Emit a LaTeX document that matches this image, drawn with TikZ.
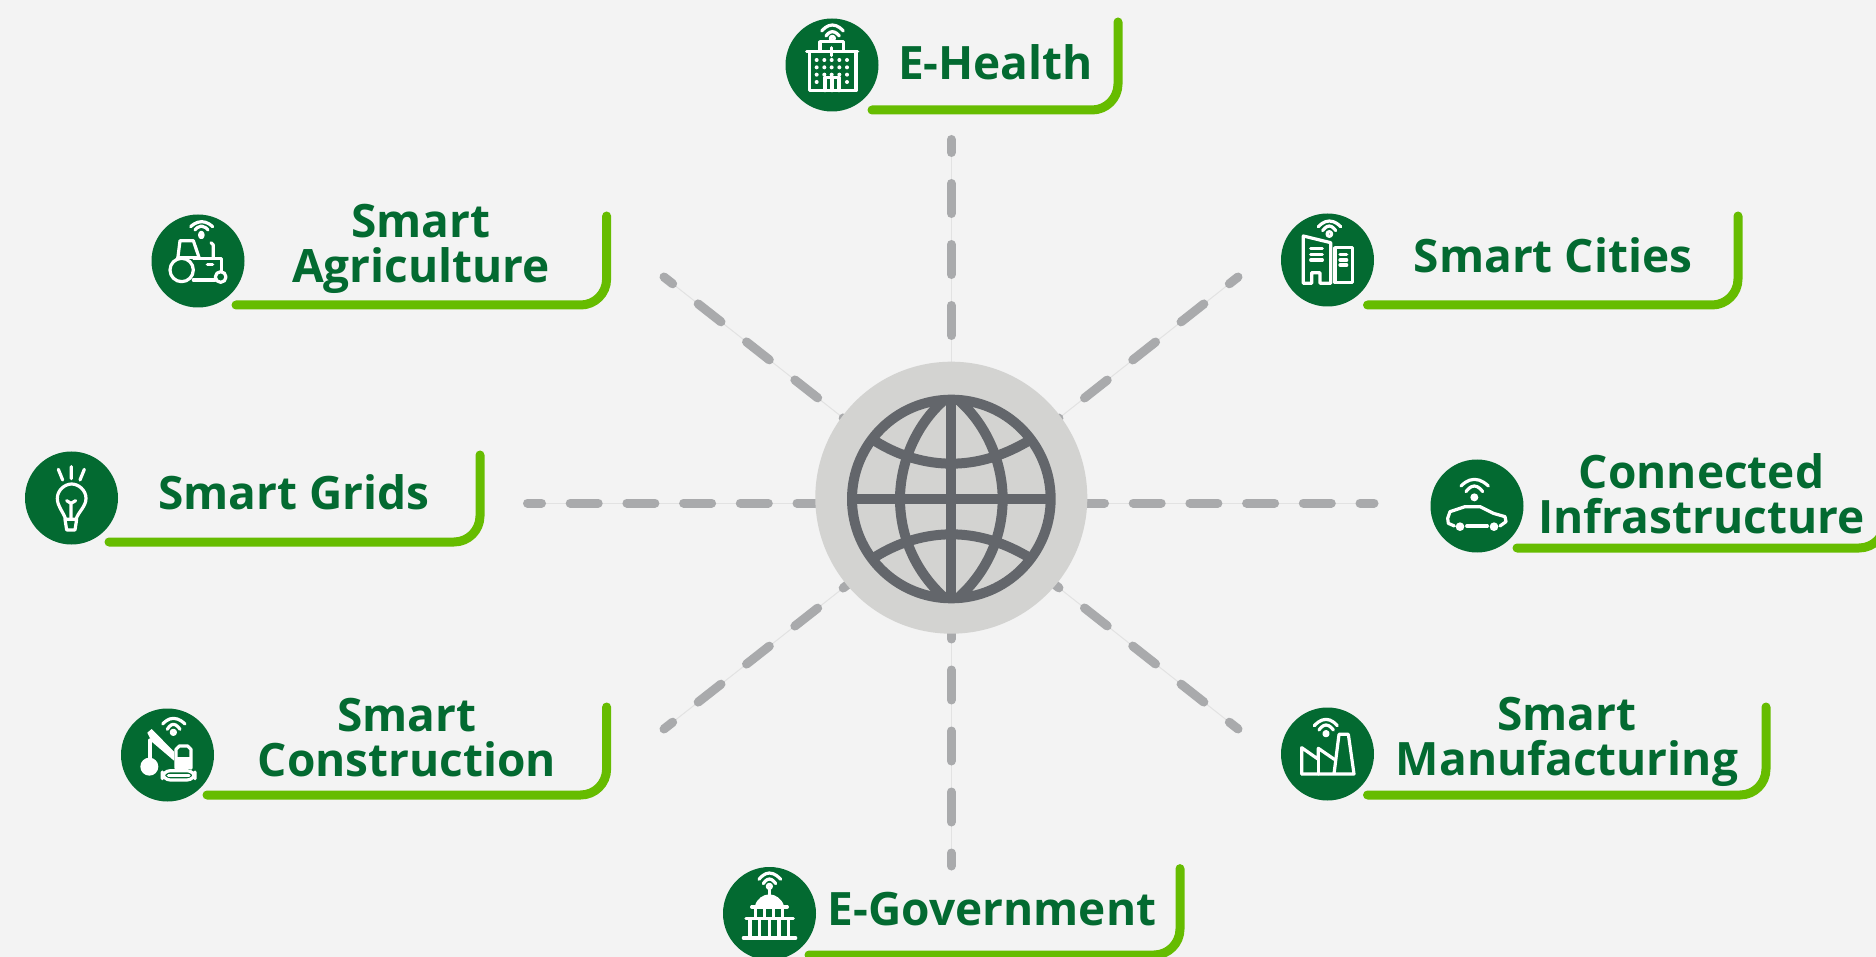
\documentclass[tikz,border=0pt]{standalone}
\usepackage{fontspec}
\setmainfont{Open Sans}
\definecolor{bgc}{HTML}{F3F3F3}
\definecolor{dkgreen}{HTML}{036A31}
\definecolor{brgreen}{HTML}{66BC00}
\definecolor{dashc}{HTML}{A9AAAC}
\definecolor{thinc}{HTML}{E2E2E2}
\definecolor{hubc}{HTML}{D3D3D1}
\definecolor{globec}{HTML}{63666B}
\tikzset{
  bracket/.style={draw=brgreen,line width=4.5pt,line cap=round,rounded corners=13pt},
  iconcirc/.style={circle,fill=dkgreen,minimum size=46.5pt,inner sep=0pt},
  lbl/.style={text=dkgreen,font=\fontsize{23}{22.5}\selectfont\bfseries,align=center,inner sep=0pt},
  thinspoke/.style={draw=thinc,line width=0.5pt},
  spokeV/.style={draw=dashc,line width=4.5pt,line cap=round,dash pattern=on 15pt off 15.5pt,dash phase=8.5pt},
  spokeH/.style={draw=dashc,line width=4.5pt,line cap=round,dash pattern=on 14pt off 14.35pt,dash phase=7pt},
  spokeD/.style={draw=dashc,line width=4.5pt,line cap=round,dash pattern=on 14.5pt off 16.25pt,dash phase=9pt},
  ico/.style={draw=white,line width=1.6pt,line cap=round,line join=round},
  globe/.style={draw=globec,line width=5pt}
}
\begin{document}
\begin{tikzpicture}[x=0.5pt,y=-0.5pt]
\useasboundingbox (0,0) rectangle (1876,957);
\fill[bgc] (0,0) rectangle (1876,957);
\clip (0,0) rectangle (1876,957);
% spokes
\coordinate (centre) at (951.3,503);
\coordinate (endN) at (951.3,139.5);
\coordinate (endS) at (951.3,866);
\coordinate (endW) at (527.5,503);
\coordinate (endE) at (1374,503);
\coordinate (endNE) at (1238,277);
\coordinate (endNW) at (664,277);
\coordinate (endSW) at (664,729);
\coordinate (endSE) at (1238,729);
\foreach \e in {endN,endS,endW,endE,endNE,endNW,endSW,endSE}
  \draw[thinspoke] (\e) -- (centre);
\foreach \e in {endN,endS} \draw[spokeV] (\e) -- (centre);
\foreach \e in {endW,endE} \draw[spokeH] (\e) -- (centre);
\foreach \e in {endNE,endNW,endSW,endSE} \draw[spokeD] (\e) -- (centre);
% hub
\node[circle,fill=hubc,minimum size=136pt,inner sep=0pt] (hub) at (951.3,497.7) {};
\begin{scope}[shift={(780,340)},scale=1/3]
  \draw[globe] (514,477) circle (298);
  \draw[globe] (514,185) -- (514,770);
  \draw[globe] (225,477) -- (805,477);
  \draw[globe] (495,178) .. controls (400,260) and (360,380) .. (360,477) .. controls (360,580) and (400,690) .. (495,775);
  \draw[globe] (533,178) .. controls (628,260) and (668,380) .. (668,477) .. controls (668,580) and (628,690) .. (533,775);
  \draw[globe] (285,303) .. controls (360,350) and (440,371) .. (514,371) .. controls (590,371) and (665,350) .. (745,303);
  \draw[globe] (285,651) .. controls (360,604) and (440,583) .. (514,583) .. controls (590,583) and (665,604) .. (745,651);
\end{scope}
% brackets
\draw[bracket] (872,110) -- (1118,110) -- (1118,22);
\draw[bracket] (236,305) -- (606.6,305) -- (606.6,216);
\draw[bracket] (1367.5,305) -- (1738,305) -- (1738,216);
\draw[bracket] (109,542) -- (480,542) -- (480,455);
\draw[bracket] (1517,548) -- (1885,548) -- (1885,500);
\draw[bracket] (207,795) -- (606.6,795) -- (606.6,707);
\draw[bracket] (1367.5,795) -- (1766,795) -- (1766,707);
\draw[bracket] (809,955) -- (1180,955) -- (1180,868.6);
% circles
\node[iconcirc] (cHealth) at (832,65) {};
\node[iconcirc] (cAgri) at (198,261) {};
\node[iconcirc] (cCities) at (1327.5,260) {};
\node[iconcirc] (cGrids) at (71.5,498) {};
\node[iconcirc] (cConn) at (1477,506) {};
\node[iconcirc] (cConstr) at (167.5,755) {};
\node[iconcirc] (cManuf) at (1327.5,754) {};
\node[iconcirc] (cGov) at (769.5,913.5) {};
% labels
\node[lbl,anchor=base] (tHealth) at (995.5,80) {E-Health};
\node[lbl] (tAgri) at (421,249) {Smart\\Agriculture};
\node[lbl,anchor=base] (tCities) at (1553,272.7) {Smart Cities};
\node[lbl,anchor=base] (tGrids) at (294,509.5) {Smart Grids};
\node[lbl] (tConn) at (1701.5,493.5) {Connected\\Infrastructure};
\node[lbl] (tConstr) at (407,737.5) {Smart\\Construction};
\node[lbl] (tManuf) at (1567,742) {Smart\\Manufacturing};
\node[lbl,anchor=base] (tGov) at (992,925) {E-Government};
% E-Health icon
\begin{scope}[shift={(760,0)},scale=1/3]
  \draw[ico] (185,93) parabola bend (217,75) (250,93);
  \draw[ico] (198,108) parabola bend (217,95) (238,108);
  \draw[ico] (217,115) circle (6);
  \draw[ico] (180,150) -- (180,125) -- (250,125) -- (250,150);
  \draw[ico] (140,155) -- (293,155);
  \draw[ico] (148,155) -- (148,272) -- (288,272) -- (288,155);
  \draw[ico] (195,272) -- (195,232) -- (237,232) -- (237,272);
  \draw[ico] (216,232) -- (216,272);
  \draw[ico] (215,143) -- (215,167);
  \draw[ico] (203,155) -- (227,155);
  \foreach \x in {170,193,215,238,261} {
    \fill[white] (\x,180) circle (6);
    \fill[white] (\x,202) circle (6);
  }
  \foreach \x in {170,261} {
    \fill[white] (\x,224) circle (6);
    \fill[white] (\x,246) circle (6);
  }
  \foreach \x in {193,215,238} \fill[white] (\x,224) circle (6);
\end{scope}
% tractor
\begin{scope}[shift={(130,200)},scale=1/3]
  \draw[ico] (182,80) parabola bend (215,65) (248,80);
  \draw[ico] (195,90) parabola bend (214,78) (234,90);
  \draw[ico] (214,105) ellipse (5 and 8);
  \draw[ico] (143,178) -- (150,122) -- (190,122) -- (207,172);
  \draw[ico] (143,172) -- (207,172);
  \draw[ico] (190,175) -- (275,175) -- (275,212);
  \draw[ico] (190,240) -- (255,240);
  \draw[ico] (155,210) circle (35);
  \draw[ico] (272,231) circle (16);
  \draw[ico] (243,128) -- (250,135) -- (250,172);
  \draw[ico] (232,193) -- (248,193);
\end{scope}
% cities
\begin{scope}[shift={(1270,200)},scale=1/3]
  \draw[ico] (145,80) parabola bend (178,63) (212,80);
  \draw[ico] (158,92) parabola bend (178,78) (197,92);
  \draw[ico] (178,102) circle (7);
  \draw[ico] (100,108) -- (182,128) -- (182,250) -- (150,250) -- (150,218) -- (125,218) -- (125,250) -- (100,250) -- cycle;
  \draw[ico] (122,145) -- (157,145) (122,163) -- (157,163) (122,180) -- (157,180);
  \draw[ico] (195,143) rectangle (247,248);
  \draw[ico] (210,163) -- (230,163) (210,180) -- (230,180) (210,195) -- (230,195);
\end{scope}
% bulb
\begin{scope}[shift={(10,440)},scale=1/3]
  \draw[ico] (145,88) -- (158,120) (184,80) -- (184,116) (223,88) -- (210,120);
  \draw[ico] (167,238) .. controls (160,215) and (142,200) .. (142,175) .. controls (142,150) and (165,132) .. (185,132) .. controls (205,132) and (228,150) .. (228,175) .. controls (228,200) and (205,215) .. (198,238);
  \draw[ico] (165,238) -- (200,238) -- (195,270) -- (170,270) -- cycle;
  \draw[ico] (183,235) -- (183,190) (170,182) -- (183,190) -- (197,182);
\end{scope}
% car
\begin{scope}[shift={(1410,450)},scale=1/3]
  \draw[ico] (153,108) parabola bend (193,88) (235,108);
  \draw[ico] (168,125) parabola bend (193,108) (218,125);
  \fill[white] (193,142) circle (12);
  \draw[ico] (133,228) -- (115,220) -- (113,205) -- (120,185) -- (165,170) -- (210,170) -- (250,190) -- (285,200) -- (288,215) -- (270,228);
  \fill[white] (150,230) circle (13);
  \fill[white] (252,230) circle (13);
  \draw[ico] (170,228) -- (232,228);
\end{scope}
% construction
\begin{scope}[shift={(110,700)},scale=1/3]
  \draw[ico] (158,72) parabola bend (190,55) (225,72);
  \draw[ico] (172,88) parabola bend (190,73) (210,88);
  \draw[ico] (190,97) circle (6);
  \fill[white] (112,98) -- (125,87) -- (192,155) -- (192,182) -- (125,125) -- cycle;
  \draw[ico] (120,120) -- (120,180);
  \fill[white] (118,200) circle (27);
  \draw[ico] (198,205) -- (198,148) -- (208,138) -- (233,138) -- (243,148) -- (243,205);
  \fill[white] (198,170) rectangle (243,207);
  \draw[ico,rounded corners=4pt] (157,212) rectangle (255,240);
  \draw[ico] (175,226) -- (237,226);
\end{scope}
% factory
\begin{scope}[shift={(1270,700)},scale=1/3]
  \draw[ico] (133,77) parabola bend (168,58) (202,77);
  \draw[ico] (147,90) parabola bend (168,75) (190,90);
  \draw[ico] (168,101) circle (6);
  \draw[ico] (95,222) -- (95,143) -- (145,178) -- (145,145) -- (193,178);
  \draw[ico] (145,178) -- (145,222);
  \draw[ico] (95,222) -- (252,222) -- (235,103) -- (207,103) -- (192,222);
\end{scope}
% government
\begin{scope}[shift={(710,857)},scale=1/3]
  \draw[ico] (147,67) parabola bend (178,48) (212,67);
  \draw[ico] (160,80) parabola bend (178,66) (197,80);
  \draw[ico] (178,88) circle (6);
  \draw[ico] (178,94) -- (178,113);
  \fill[white] (135,147) .. controls (140,125) and (160,112) .. (178,112) .. controls (196,112) and (216,125) .. (222,147) -- cycle;
  \draw[ico] (125,150) -- (232,150);
  \foreach \x in {137,164,191,218} \draw[ico] (\x,150) -- (\x,183);
  \draw[ico] (108,184) -- (250,184);
  \foreach \x in {120,149,178,207,236} \draw[ico] (\x,190) -- (\x,240);
  \draw[ico] (100,243) -- (257,243);
\end{scope}
\end{tikzpicture}
\end{document}
